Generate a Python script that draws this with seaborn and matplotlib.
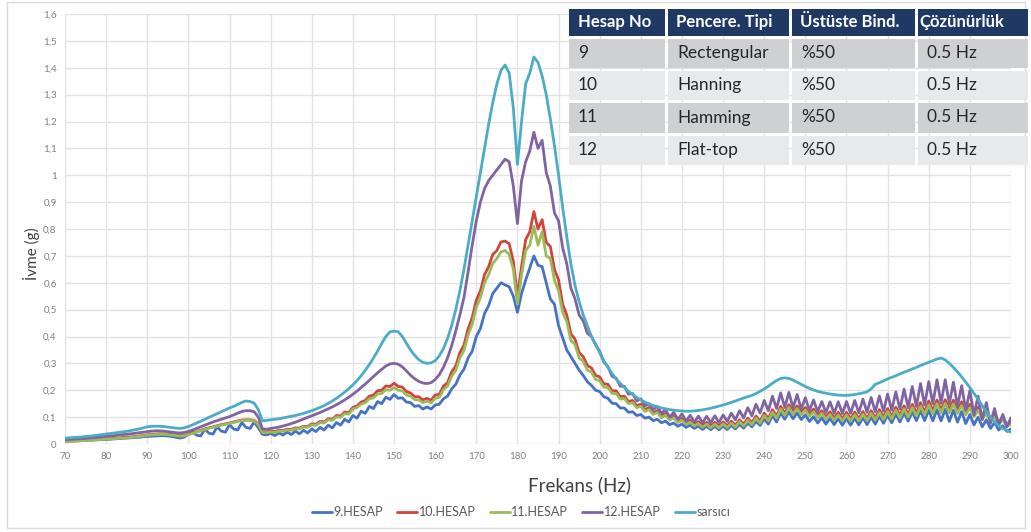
import numpy as np
import pandas as pd
import seaborn as sns
import matplotlib.pyplot as plt
from matplotlib.patches import Rectangle

# Frequency axis (Hz), 1 Hz steps
frekans = np.arange(70, 301, 1)

hesap9 = [
    0.012, 0.012, 0.013, 0.013, 0.014, 0.014, 0.015, 0.015, 0.016, 0.016,
    0.017, 0.018, 0.019, 0.020, 0.021, 0.022, 0.023, 0.024, 0.025, 0.027,
    0.028, 0.029, 0.030, 0.031, 0.031, 0.030, 0.028, 0.025, 0.022, 0.026,
    0.036, 0.045, 0.033, 0.030, 0.056, 0.040, 0.037, 0.064, 0.048, 0.044,
    0.072, 0.056, 0.052, 0.080, 0.062, 0.058, 0.082, 0.060, 0.036, 0.034,
    0.040, 0.031, 0.042, 0.033, 0.045, 0.035, 0.048, 0.038, 0.051, 0.041,
    0.056, 0.046, 0.062, 0.052, 0.070, 0.060, 0.080, 0.070, 0.092, 0.082,
    0.106, 0.096, 0.122, 0.114, 0.140, 0.132, 0.158, 0.150, 0.174, 0.166,
    0.184, 0.170, 0.172, 0.156, 0.154, 0.140, 0.143, 0.130, 0.138, 0.130,
    0.145, 0.148, 0.168, 0.178, 0.205, 0.222, 0.256, 0.278, 0.320, 0.345,
    0.400, 0.430, 0.485, 0.515, 0.560, 0.580, 0.600, 0.592, 0.585, 0.550,
    0.490, 0.560, 0.610, 0.655, 0.700, 0.665, 0.660, 0.600, 0.540, 0.520,
    0.440, 0.395, 0.350, 0.325, 0.300, 0.275, 0.255, 0.232, 0.218, 0.200,
    0.195, 0.176, 0.170, 0.152, 0.150, 0.134, 0.134, 0.118, 0.120, 0.106,
    0.110, 0.096, 0.100, 0.087, 0.092, 0.079, 0.085, 0.072, 0.078, 0.066,
    0.074, 0.062, 0.070, 0.058, 0.067, 0.054, 0.066, 0.053, 0.066, 0.053,
    0.067, 0.054, 0.069, 0.056, 0.073, 0.059, 0.078, 0.064, 0.084, 0.069,
    0.094, 0.074, 0.106, 0.082, 0.116, 0.092, 0.120, 0.094, 0.116, 0.091,
    0.108, 0.084, 0.102, 0.078, 0.098, 0.074, 0.096, 0.072, 0.095, 0.070,
    0.095, 0.070, 0.096, 0.071, 0.098, 0.072, 0.100, 0.074, 0.104, 0.077,
    0.107, 0.079, 0.111, 0.082, 0.116, 0.085, 0.120, 0.087, 0.124, 0.087,
    0.126, 0.086, 0.128, 0.086, 0.129, 0.084, 0.126, 0.081, 0.121, 0.076,
    0.110, 0.071, 0.100, 0.064, 0.090, 0.058, 0.080, 0.052, 0.068, 0.047,
    0.056,
]

hesap10 = [
    0.010, 0.011, 0.011, 0.012, 0.013, 0.014, 0.015, 0.016, 0.017, 0.018,
    0.019, 0.020, 0.021, 0.022, 0.024, 0.025, 0.026, 0.028, 0.030, 0.032,
    0.034, 0.036, 0.037, 0.038, 0.038, 0.037, 0.035, 0.033, 0.031, 0.033,
    0.037, 0.041, 0.046, 0.051, 0.056, 0.060, 0.064, 0.068, 0.072, 0.075,
    0.078, 0.082, 0.086, 0.089, 0.090, 0.090, 0.088, 0.075, 0.046, 0.045,
    0.048, 0.046, 0.051, 0.050, 0.055, 0.054, 0.060, 0.059, 0.066, 0.065,
    0.075, 0.073, 0.084, 0.082, 0.094, 0.092, 0.106, 0.104, 0.119, 0.117,
    0.136, 0.142, 0.156, 0.162, 0.178, 0.182, 0.198, 0.200, 0.216, 0.214,
    0.226, 0.214, 0.212, 0.195, 0.190, 0.176, 0.176, 0.164, 0.170, 0.163,
    0.182, 0.185, 0.215, 0.228, 0.268, 0.290, 0.340, 0.368, 0.428, 0.470,
    0.535, 0.570, 0.630, 0.660, 0.705, 0.720, 0.752, 0.755, 0.745, 0.680,
    0.550, 0.660, 0.760, 0.790, 0.865, 0.800, 0.835, 0.750, 0.735, 0.650,
    0.610, 0.520, 0.480, 0.410, 0.390, 0.340, 0.325, 0.292, 0.283, 0.255,
    0.250, 0.224, 0.222, 0.198, 0.198, 0.176, 0.178, 0.158, 0.162, 0.142,
    0.148, 0.128, 0.136, 0.116, 0.124, 0.104, 0.114, 0.095, 0.104, 0.086,
    0.095, 0.079, 0.088, 0.073, 0.083, 0.069, 0.081, 0.067, 0.081, 0.067,
    0.082, 0.068, 0.085, 0.070, 0.090, 0.074, 0.096, 0.079, 0.104, 0.085,
    0.115, 0.094, 0.128, 0.104, 0.140, 0.114, 0.146, 0.120, 0.142, 0.117,
    0.136, 0.112, 0.130, 0.106, 0.124, 0.100, 0.120, 0.096, 0.118, 0.094,
    0.118, 0.093, 0.119, 0.094, 0.121, 0.095, 0.124, 0.097, 0.128, 0.100,
    0.132, 0.102, 0.137, 0.106, 0.142, 0.110, 0.148, 0.114, 0.154, 0.118,
    0.160, 0.124, 0.164, 0.127, 0.165, 0.128, 0.163, 0.126, 0.157, 0.120,
    0.148, 0.112, 0.137, 0.102, 0.124, 0.092, 0.111, 0.082, 0.098, 0.072,
    0.080,
]

hesap11 = [
    0.009, 0.010, 0.010, 0.011, 0.012, 0.013, 0.014, 0.015, 0.016, 0.017,
    0.018, 0.019, 0.020, 0.021, 0.022, 0.023, 0.024, 0.026, 0.028, 0.030,
    0.032, 0.034, 0.035, 0.036, 0.036, 0.035, 0.033, 0.031, 0.029, 0.031,
    0.035, 0.039, 0.044, 0.049, 0.054, 0.058, 0.062, 0.066, 0.070, 0.073,
    0.076, 0.080, 0.084, 0.087, 0.088, 0.088, 0.086, 0.072, 0.043, 0.042,
    0.045, 0.043, 0.048, 0.047, 0.052, 0.051, 0.057, 0.056, 0.063, 0.062,
    0.071, 0.069, 0.080, 0.078, 0.090, 0.088, 0.101, 0.099, 0.113, 0.111,
    0.130, 0.136, 0.148, 0.154, 0.168, 0.172, 0.186, 0.188, 0.202, 0.200,
    0.210, 0.200, 0.198, 0.182, 0.178, 0.165, 0.164, 0.154, 0.160, 0.153,
    0.170, 0.174, 0.202, 0.215, 0.252, 0.274, 0.320, 0.348, 0.405, 0.446,
    0.508, 0.545, 0.600, 0.630, 0.672, 0.690, 0.715, 0.720, 0.705, 0.650,
    0.520, 0.630, 0.720, 0.740, 0.810, 0.740, 0.790, 0.700, 0.690, 0.610,
    0.570, 0.490, 0.455, 0.385, 0.370, 0.320, 0.308, 0.275, 0.268, 0.240,
    0.236, 0.212, 0.210, 0.188, 0.188, 0.167, 0.169, 0.150, 0.154, 0.135,
    0.140, 0.121, 0.128, 0.110, 0.117, 0.098, 0.107, 0.089, 0.097, 0.080,
    0.088, 0.073, 0.081, 0.067, 0.076, 0.062, 0.074, 0.060, 0.074, 0.060,
    0.075, 0.061, 0.078, 0.063, 0.083, 0.067, 0.088, 0.072, 0.096, 0.078,
    0.106, 0.086, 0.118, 0.096, 0.130, 0.106, 0.136, 0.111, 0.132, 0.108,
    0.126, 0.103, 0.120, 0.097, 0.114, 0.091, 0.110, 0.088, 0.108, 0.086,
    0.108, 0.085, 0.109, 0.086, 0.111, 0.087, 0.114, 0.089, 0.117, 0.091,
    0.121, 0.093, 0.126, 0.097, 0.131, 0.100, 0.136, 0.104, 0.141, 0.108,
    0.146, 0.112, 0.150, 0.115, 0.151, 0.116, 0.149, 0.114, 0.143, 0.109,
    0.135, 0.102, 0.125, 0.093, 0.113, 0.084, 0.101, 0.075, 0.089, 0.066,
    0.073,
]

hesap12 = [
    0.016, 0.017, 0.018, 0.019, 0.020, 0.021, 0.023, 0.024, 0.025, 0.027,
    0.028, 0.030, 0.031, 0.033, 0.035, 0.036, 0.038, 0.040, 0.042, 0.044,
    0.046, 0.048, 0.049, 0.049, 0.048, 0.046, 0.044, 0.042, 0.041, 0.043,
    0.047, 0.052, 0.058, 0.064, 0.070, 0.076, 0.082, 0.087, 0.092, 0.097,
    0.102, 0.108, 0.115, 0.121, 0.124, 0.124, 0.120, 0.100, 0.056, 0.055,
    0.058, 0.060, 0.063, 0.067, 0.071, 0.076, 0.081, 0.087, 0.093, 0.099,
    0.105, 0.111, 0.117, 0.124, 0.131, 0.138, 0.146, 0.155, 0.164, 0.174,
    0.185, 0.197, 0.210, 0.223, 0.237, 0.251, 0.265, 0.278, 0.290, 0.298,
    0.300, 0.297, 0.287, 0.272, 0.256, 0.243, 0.233, 0.227, 0.225, 0.228,
    0.240, 0.258, 0.285, 0.320, 0.365, 0.420, 0.480, 0.545, 0.640, 0.740,
    0.830, 0.900, 0.950, 0.980, 1.000, 1.020, 1.040, 1.060, 1.050, 0.960,
    0.820, 0.980, 1.050, 1.090, 1.160, 1.100, 1.130, 1.010, 0.960, 0.860,
    0.830, 0.730, 0.670, 0.580, 0.540, 0.480, 0.458, 0.412, 0.400, 0.370,
    0.345, 0.305, 0.288, 0.252, 0.245, 0.215, 0.215, 0.185, 0.188, 0.160,
    0.168, 0.142, 0.150, 0.128, 0.140, 0.114, 0.128, 0.100, 0.118, 0.092,
    0.112, 0.085, 0.107, 0.081, 0.104, 0.079, 0.103, 0.079, 0.105, 0.080,
    0.108, 0.084, 0.115, 0.090, 0.124, 0.097, 0.135, 0.105, 0.148, 0.115,
    0.162, 0.124, 0.178, 0.132, 0.190, 0.136, 0.192, 0.135, 0.184, 0.130,
    0.172, 0.125, 0.164, 0.120, 0.158, 0.117, 0.157, 0.114, 0.157, 0.113,
    0.158, 0.114, 0.162, 0.116, 0.167, 0.118, 0.173, 0.120, 0.179, 0.122,
    0.186, 0.126, 0.194, 0.130, 0.204, 0.135, 0.214, 0.140, 0.225, 0.145,
    0.232, 0.150, 0.239, 0.152, 0.239, 0.150, 0.230, 0.140, 0.217, 0.126,
    0.199, 0.108, 0.178, 0.090, 0.154, 0.077, 0.132, 0.068, 0.110, 0.064,
    0.098,
]

sarsici = [
    0.022, 0.023, 0.024, 0.025, 0.026, 0.028, 0.029, 0.031, 0.033, 0.035,
    0.037, 0.039, 0.041, 0.043, 0.045, 0.047, 0.050, 0.053, 0.056, 0.060,
    0.064, 0.066, 0.066, 0.066, 0.065, 0.063, 0.061, 0.059, 0.058, 0.060,
    0.065, 0.071, 0.078, 0.085, 0.092, 0.099, 0.106, 0.113, 0.120, 0.127,
    0.134, 0.140, 0.147, 0.155, 0.160, 0.158, 0.152, 0.128, 0.086, 0.088,
    0.090, 0.092, 0.094, 0.097, 0.100, 0.103, 0.106, 0.110, 0.114, 0.119,
    0.124, 0.130, 0.136, 0.143, 0.151, 0.160, 0.170, 0.181, 0.193, 0.206,
    0.220, 0.236, 0.254, 0.274, 0.296, 0.320, 0.346, 0.374, 0.400, 0.417,
    0.420, 0.418, 0.400, 0.375, 0.350, 0.330, 0.314, 0.304, 0.300, 0.302,
    0.310, 0.328, 0.355, 0.392, 0.440, 0.500, 0.570, 0.650, 0.740, 0.830,
    0.920, 1.010, 1.100, 1.190, 1.270, 1.340, 1.390, 1.410, 1.380, 1.250,
    1.040, 1.200, 1.340, 1.380, 1.440, 1.420, 1.370, 1.300, 1.210, 1.110,
    1.000, 0.880, 0.770, 0.670, 0.590, 0.530, 0.480, 0.440, 0.400, 0.370,
    0.340, 0.310, 0.285, 0.262, 0.242, 0.225, 0.210, 0.196, 0.184, 0.173,
    0.164, 0.156, 0.149, 0.143, 0.138, 0.134, 0.131, 0.128, 0.126, 0.124,
    0.123, 0.122, 0.122, 0.123, 0.125, 0.127, 0.130, 0.133, 0.137, 0.141,
    0.145, 0.150, 0.155, 0.160, 0.166, 0.171, 0.176, 0.181, 0.188, 0.196,
    0.205, 0.215, 0.226, 0.236, 0.244, 0.246, 0.244, 0.238, 0.230, 0.222,
    0.214, 0.207, 0.201, 0.196, 0.192, 0.189, 0.186, 0.184, 0.182, 0.181,
    0.181, 0.182, 0.184, 0.187, 0.190, 0.194, 0.205, 0.222, 0.228, 0.235,
    0.242, 0.248, 0.254, 0.261, 0.267, 0.273, 0.279, 0.285, 0.292, 0.298,
    0.304, 0.310, 0.316, 0.320, 0.313, 0.300, 0.285, 0.268, 0.250, 0.230,
    0.210, 0.188, 0.166, 0.143, 0.120, 0.099, 0.082, 0.068, 0.058, 0.050,
    0.044,
]

seri_adlari = ["9.HESAP", "10.HESAP", "11.HESAP", "12.HESAP", "sarsıcı"]
seri_renkleri = ["#4472C4", "#D0443A", "#9BBB59", "#8064A2", "#4BACC6"]

x_ticks = list(range(70, 301, 10))
y_ticks = [round(0.1 * i, 1) for i in range(17)]

tablo_baslik = ["Hesap No", "Pencere. Tipi", "Üstüste Bind.", "Çözünürlük"]
tablo_satirlar = [
    ["9", "Rectengular", "%50", "0.5 Hz"],
    ["10", "Hanning", "%50", "0.5 Hz"],
    ["11", "Hamming", "%50", "0.5 Hz"],
    ["12", "Flat-top", "%50", "0.5 Hz"],
]

# Long-form table for seaborn
df = pd.concat(
    [pd.DataFrame({"Frekans": frekans, "Ivme": vals, "Seri": name})
     for name, vals in zip(seri_adlari, [hesap9, hesap10, hesap11, hesap12, sarsici])],
    ignore_index=True,
)

sns.set_theme(style="white")
plt.rcParams["font.family"] = ["Lato", "DejaVu Sans"]

W, H = 1031, 532
fig = plt.figure(figsize=(W / 100, H / 100), dpi=100)
fig.patch.set_facecolor("white")

def fx(px):
    return px / W

def fy(py):
    return 1 - py / H

# outer chart border
fig.patches.append(Rectangle((fx(7), fy(528)), fx(1025) - fx(7), fy(2) - fy(528),
                             transform=fig.transFigure, fill=False,
                             edgecolor="#D9D9D9", linewidth=1.0, zorder=0))

ax = fig.add_axes([fx(65), fy(444), fx(1011) - fx(65), fy(14) - fy(444)])
sns.lineplot(data=df, x="Frekans", y="Ivme", hue="Seri", hue_order=seri_adlari,
             palette=seri_renkleri, estimator=None, sort=False, linewidth=2.0,
             ax=ax)

ax.set_xlim(70, 300)
ax.set_ylim(0, 1.6)
ax.set_xticks(x_ticks)
ax.set_xticklabels([str(t) for t in x_ticks])
ax.set_yticks(y_ticks)
ax.set_yticklabels([("%g" % t).replace(".", ",") for t in y_ticks])
ax.tick_params(axis="both", length=0, labelsize=7, labelcolor="#7F7F7F", pad=6)
ax.grid(True, color="#E3E3E3", linewidth=1.0)
ax.set_axisbelow(True)
for s in ax.spines.values():
    s.set_visible(False)
ax.set_xlabel("")
ax.set_ylabel("")

handles, labels = ax.get_legend_handles_labels()
ax.get_legend().remove()
fig.legend(handles, labels, loc="center", bbox_to_anchor=(fx(521), fy(512)),
           ncol=5, frameon=False, fontsize=9, labelcolor="#595959",
           handlelength=1.6, handletextpad=0.15, columnspacing=1.1)

fig.text(fx(580), fy(485), "Frekans (Hz)", ha="center", va="center",
         fontsize=13.5, color="#404040")
fig.text(fx(31), fy(254), "İvme (g)", ha="center", va="center", rotation=90,
         fontsize=11, color="#404040")

# parameter table in the upper right
col_edges = [567, 666, 790, 916, 1029]
row_edges = [7, 37, 69, 101, 134, 166]
row_fills = ["#1F3864", "#CFD0D2", "#E8E9EB", "#CFD0D2", "#E8E9EB"]
header_pad = [11, 10, 10, 3]
gap = 1.5
for r in range(5):
    for c in range(4):
        x0, x1 = col_edges[c] + gap, col_edges[c + 1] - gap
        y0, y1 = row_edges[r] + gap, row_edges[r + 1] - gap
        fig.patches.append(Rectangle((fx(x0), fy(y1)), fx(x1) - fx(x0), fy(y0) - fy(y1),
                                     transform=fig.transFigure, facecolor=row_fills[r],
                                     edgecolor="none", zorder=5))
        if r == 0:
            txt, color, weight, size = tablo_baslik[c], "white", "bold", 12
            pad = header_pad[c]
        else:
            txt, color, weight, size = tablo_satirlar[r - 1][c], "#262626", "normal", 12.5
            pad = 11
        fig.text(fx(col_edges[c] + pad), fy((row_edges[r] + row_edges[r + 1]) / 2), txt,
                 ha="left", va="center", fontsize=size, color=color,
                 fontweight=weight, zorder=6)

fig.savefig("out.png", dpi=100, facecolor="white")
